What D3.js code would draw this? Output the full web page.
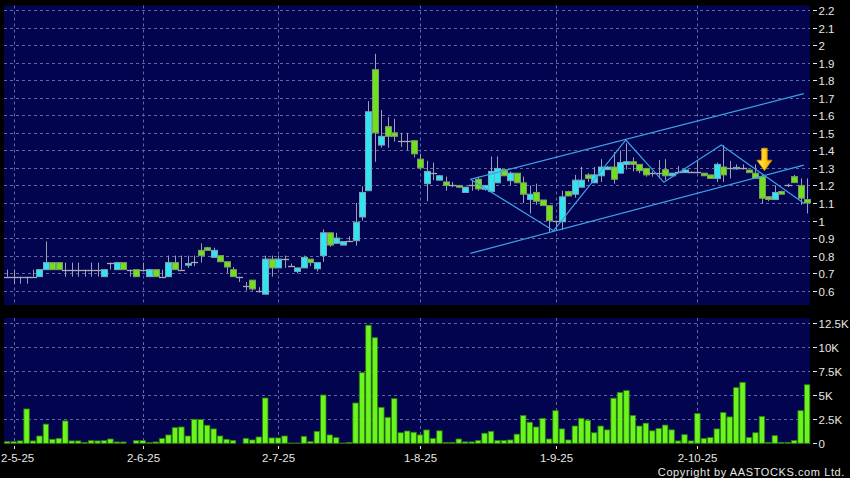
<!DOCTYPE html>
<html><head><meta charset="utf-8">
<script src="https://cdn.jsdelivr.net/npm/d3@7"></script>
<style>html,body{margin:0;padding:0;background:#000;} svg{display:block}</style>
</head><body><svg id="c" width="850" height="478"></svg>
<script>
// ---------- DATA ----------
const openP = [0.68,0.68,0.68,0.68,0.68,0.68,0.72,0.76,0.76,0.72, 0.72,0.72,0.72,0.72,0.72,0.68,0.76,0.72,0.76,0.72, 0.72,0.72,0.68,0.72,0.68,0.68,0.76,0.72,0.745,0.765, 0.83,0.845,0.79,0.80,0.765,0.72,0.68,0.625,0.66,0.60, 0.58,0.78,0.73,0.78,0.74,0.71,0.73,0.78,0.725,0.80, 0.93,0.87,0.86,0.885,0.885,1.02,1.17,1.86,1.43,1.535, 1.50,1.455,1.455,1.455,1.35,1.21,1.27,1.23,1.22,1.20, 1.20,1.16,1.20,1.235,1.178,1.165,1.215,1.29,1.227,1.27, 1.215,1.12,1.16,1.117,1.085,1.0,0.993,1.165,1.15,1.19, 1.26,1.215,1.255,1.29,1.305,1.27,1.32,1.335,1.32,1.297, 1.27,1.27,1.29,1.255,1.278,1.273,1.278,1.278,1.27,1.26, 1.24,1.305,1.298,1.298,1.298,1.288,1.27,1.25,1.136,1.12, 1.165,1.20,1.25,1.2,1.12];
const highP = [0.72,0.72,0.68,0.68,0.72,0.72,0.88,0.76,0.76,0.76, 0.76,0.76,0.72,0.76,0.76,0.72,0.76,0.76,0.76,0.72, 0.72,0.76,0.72,0.72,0.72,0.80,0.80,0.80,0.80,0.80, 0.87,0.85,0.845,0.80,0.765,0.735,0.68,0.65,0.66,0.62, 0.80,0.80,0.80,0.80,0.755,0.73,0.80,0.78,0.76,0.95, 0.93,0.93,0.88,0.91,1.10,1.195,1.68,1.95,1.63,1.59, 1.58,1.50,1.50,1.455,1.38,1.34,1.33,1.26,1.25,1.22, 1.20,1.19,1.23,1.25,1.2,1.365,1.365,1.29,1.28,1.27, 1.25,1.2,1.21,1.117,1.085,1.0,1.17,1.17,1.26,1.305, 1.27,1.305,1.35,1.31,1.39,1.40,1.44,1.36,1.32,1.297, 1.28,1.345,1.35,1.27,1.31,1.29,1.28,1.34,1.27,1.26, 1.33,1.43,1.34,1.32,1.32,1.288,1.32,1.26,1.136,1.20, 1.17,1.21,1.26,1.24,1.24];
const lowP = [0.68,0.64,0.64,0.64,0.68,0.68,0.72,0.72,0.72,0.68, 0.68,0.68,0.68,0.68,0.68,0.68,0.72,0.72,0.72,0.68, 0.68,0.72,0.68,0.68,0.68,0.68,0.72,0.72,0.73,0.74, 0.76,0.83,0.79,0.765,0.70,0.68,0.65,0.60,0.60,0.59, 0.58,0.68,0.73,0.73,0.74,0.70,0.73,0.74,0.71,0.765, 0.85,0.87,0.86,0.885,0.857,1.0,1.17,1.335,1.415,1.415, 1.45,1.42,1.40,1.36,1.29,1.11,1.23,1.23,1.17,1.19, 1.185,1.16,1.17,1.17,1.17,1.165,1.215,1.255,1.20,1.215, 1.10,1.04,1.09,1.085,0.936,0.946,0.946,1.14,1.13,1.19, 1.22,1.215,1.22,1.29,1.21,1.27,1.29,1.28,1.27,1.25, 1.25,1.24,1.23,1.255,1.27,1.273,1.27,1.27,1.255,1.24, 1.22,1.22,1.24,1.29,1.29,1.273,1.24,1.095,1.11,1.12, 1.15,1.19,1.215,1.09,1.04];
const closeP = [0.68,0.68,0.68,0.68,0.68,0.72,0.76,0.72,0.72,0.72, 0.72,0.72,0.72,0.72,0.72,0.72,0.76,0.76,0.72,0.72, 0.68,0.72,0.72,0.68,0.68,0.76,0.72,0.72,0.755,0.765, 0.80,0.83,0.83,0.765,0.735,0.68,0.68,0.625,0.61,0.60, 0.78,0.73,0.78,0.78,0.74,0.73,0.79,0.76,0.76,0.93, 0.86,0.90,0.88,0.885,0.99,1.16,1.62,1.50,1.48,1.48, 1.48,1.455,1.455,1.38,1.30,1.28,1.27,1.255,1.20,1.20, 1.19,1.19,1.20,1.18,1.20,1.28,1.297,1.255,1.27,1.215, 1.15,1.15,1.11,1.085,1.0,1.0,1.135,1.14,1.23,1.23, 1.24,1.26,1.305,1.305,1.235,1.33,1.335,1.32,1.284,1.26, 1.27,1.27,1.255,1.27,1.278,1.288,1.278,1.278,1.255,1.24, 1.32,1.26,1.298,1.303,1.298,1.273,1.24,1.127,1.12,1.16, 1.15,1.20,1.216,1.127,1.10];
// volume in thousands
const volumeK = [0.17,0.17,0.25,3.58,0.25,0.76,2.0,0.42,0.52,2.33, 0.25,0.25,0.1,0.28,0.25,0.28,0.45,0.14,0.14,0, 0.28,0.28,0.07,0.14,0.49,0.87,1.63,1.7,0.76,2.5, 2.47,1.88,1.5,0.76,0.42,0.31,0,0.52,0.35,0.66, 4.72,0.56,0.56,0.76,0.03,0.03,0.73,0.17,1.25,5.03, 0.87,0.59,0.03,0.1,4.2,7.36,12.3,11.0,3.75,2.7, 4.65,1.1,1.28,1.15,0.87,1.39,0.5,1.3,0.1,0.1, 0.45,0.15,0.15,0.3,1.05,1.25,0.3,0.3,0.35,0.95, 2.9,2.2,1.7,2.6,0.45,3.4,1.5,0.35,1.8,2.6, 2.4,1.1,1.8,1.4,4.7,5.3,5.5,2.9,1.8,2.1, 1.3,1.55,1.9,1.4,0.25,0.9,0.25,3.1,0.5,0.6, 1.5,3.2,2.75,5.8,6.35,0.6,1.1,2.8,0.1,0.8, 0.1,0.1,0.3,3.4,6.1];
const dateTickIndex = [1, 21, 42, 64, 85, 107];
const dateTickLabels = ["2-5-25","2-6-25","2-7-25","1-8-25","1-9-25","2-10-25"];
const priceTicks = [2.2,2.1,2.0,1.9,1.8,1.7,1.6,1.5,1.4,1.3,1.2,1.1,1.0,0.9,0.8,0.7,0.6];
const priceTickLabels = ["2.2","2.1","2","1.9","1.8","1.7","1.6","1.5","1.4","1.3","1.2","1.1","1","0.9","0.8","0.7","0.6"];
const volTicks = [12500,10000,7500,5000,2500,0];
const volTickLabels = ["12.5K","10K","7.5K","5K","2.5K","0"];
// annotation lines: [bar index, price]
const upperChannel = [[71.8,1.235],[123.5,1.723]];
const lowerChannel = [[71.8,0.813],[123.5,1.316]];
const zigzag = [[71.8,1.235],[84.7,0.942],[95.9,1.459],[101.8,1.218],[110.7,1.43],[123.5,1.098]];
const arrowMark = {index:117, price:1.284};

// ---------- CHART ----------
const N = openP.length;
const svg = d3.select("#c");
const FONT = "'Liberation Sans', Arial, sans-serif";
const bg = "#02044f", gridC = "#5f6b9e", txtC = "#e6e6e6";

const x = d3.scaleBand().domain(d3.range(N)).range([4, 810.3]).padding(0);
const cx = i => x(i) + x.bandwidth()/2;
const xl = d3.scaleLinear().domain([0, N-1]).range([cx(0), cx(N-1)]);
const y = d3.scaleLinear().domain([0.6, 2.2]).range([290.7, 10]);
const yv = d3.scaleLinear().domain([0, 12500]).range([443.3, 323.3]);

svg.append("rect").attr("width",850).attr("height",478).attr("fill","#000");
// panels
svg.append("rect").attr("x",4).attr("y",5.5).attr("width",806).attr("height",299.5).attr("fill",bg);
svg.append("rect").attr("x",4).attr("y",318).attr("width",806).attr("height",126).attr("fill",bg);

// horizontal grid
svg.append("g").selectAll("line").data(priceTicks).join("line")
  .attr("x1",4).attr("x2",810).attr("y1",d=>Math.round(y(d))+0.5).attr("y2",d=>Math.round(y(d))+0.5)
  .attr("stroke",gridC).attr("stroke-dasharray","3,3");
svg.append("g").selectAll("line").data(volTicks.filter(v=>v>0)).join("line")
  .attr("x1",4).attr("x2",810).attr("y1",d=>Math.round(yv(d))+0.5).attr("y2",d=>Math.round(yv(d))+0.5)
  .attr("stroke",gridC).attr("stroke-dasharray","3,3");
// vertical grid
const vg = svg.append("g");
dateTickIndex.forEach(i=>{
  const xx = Math.round(cx(i))+0.5;
  vg.append("line").attr("x1",xx).attr("x2",xx).attr("y1",5.5).attr("y2",305).attr("stroke",gridC).attr("stroke-dasharray","3,3");
  vg.append("line").attr("x1",xx).attr("x2",xx).attr("y1",318).attr("y2",444).attr("stroke",gridC).attr("stroke-dasharray","3,3");
});

// volume bars
svg.append("g").selectAll("rect").data(volumeK).join("rect")
  .attr("x",(d,i)=>x(i)+0.5).attr("width",x.bandwidth()-1)
  .attr("y",d=>yv(d*1000)).attr("height",d=>Math.max(0,yv(0)-yv(d*1000)))
  .attr("fill","#6af51e").attr("stroke","#2f7d0c").attr("stroke-width",0.8);

// candles
const cg = svg.append("g");
for(let i=0;i<N;i++){
  const o=openP[i], h=highP[i], l=lowP[i], c=closeP[i];
  const xx = Math.round(cx(i))+0.5;
  cg.append("line").attr("x1",xx).attr("x2",xx).attr("y1",y(h)).attr("y2",y(l))
    .attr("stroke","#9d9fb0").attr("stroke-width",1);
  if(Math.abs(c-o)<0.004){
    const yy = Math.round(y(o))+0.5;
    cg.append("line").attr("x1",xx-3.5).attr("x2",xx+3.5).attr("y1",yy).attr("y2",yy)
      .attr("stroke","#a8aab8").attr("stroke-width",1.3);
  } else {
    const top = y(Math.max(o,c)), bot = y(Math.min(o,c));
    cg.append("rect").attr("x",xx-3).attr("width",6).attr("y",top).attr("height",Math.max(1.5,bot-top))
      .attr("fill", c>o ? "#30e4f2" : "#6ee01c")
      .attr("stroke", c>o ? "#7aa6b8" : "#7f9a6a").attr("stroke-width",1);
  }
}

// annotation lines
const line = d3.line().x(d=>xl(d[0])).y(d=>y(d[1]));
[upperChannel, lowerChannel, zigzag].forEach(pts=>{
  svg.append("path").attr("d",line(pts)).attr("fill","none").attr("stroke","#3f9fe8").attr("stroke-width",1.2);
});

// arrow
const defs = svg.append("defs");
const gr = defs.append("linearGradient").attr("id","ag").attr("x1","0").attr("x2","1").attr("y1","0").attr("y2","0");
gr.append("stop").attr("offset","0").attr("stop-color","#ffef70");
gr.append("stop").attr("offset","0.5").attr("stop-color","#ffd21a");
gr.append("stop").attr("offset","1").attr("stop-color","#f0a000");
const ax = xl(arrowMark.index)+2.5, ay = y(arrowMark.price);
svg.append("path")
  .attr("d",`M${ax-2.8},${ay-22.5} L${ax+2.8},${ay-22.5} L${ax+2.8},${ay-10.5} L${ax+7.5},${ay-10.5} L${ax},${ay} L${ax-7.5},${ay-10.5} L${ax-2.8},${ay-10.5} Z`)
  .attr("fill","url(#ag)").attr("stroke","#d98a00").attr("stroke-width",0.8);

// right axis labels
const ra = svg.append("g").attr("font-family",FONT).attr("font-size",11.5).attr("fill",txtC);
priceTicks.forEach((v,k)=>{
  const yy = Math.round(y(v))+0.5;
  ra.append("line").attr("x1",813).attr("x2",817).attr("y1",yy).attr("y2",yy).attr("stroke",txtC);
  ra.append("text").attr("x",818.5).attr("y",yy).attr("dy","0.36em").text(priceTickLabels[k]);
});
volTicks.forEach((v,k)=>{
  const yy = Math.round(yv(v))+0.5;
  ra.append("line").attr("x1",813).attr("x2",817).attr("y1",yy).attr("y2",yy).attr("stroke",txtC);
  ra.append("text").attr("x",818.5).attr("y",yy).attr("dy","0.36em").text(volTickLabels[k]);
});
// date axis
dateTickIndex.forEach((i,k)=>{
  const xx = Math.round(cx(i))+0.5;
  ra.append("line").attr("x1",xx).attr("x2",xx).attr("y1",446).attr("y2",449).attr("stroke",txtC);
  const t = ra.append("text").attr("x",xx).attr("y",462).attr("text-anchor","middle").text(dateTickLabels[k]);
  const w = t.node().getComputedTextLength();
  if (xx - w/2 < 1) t.attr("text-anchor","start").attr("x",1);
});
ra.append("text").attr("x",845).attr("y",476).attr("text-anchor","end").attr("font-size",11)
  .attr("letter-spacing","0.6").text("Copyright by AASTOCKS.com Ltd.");
</script></body></html>
